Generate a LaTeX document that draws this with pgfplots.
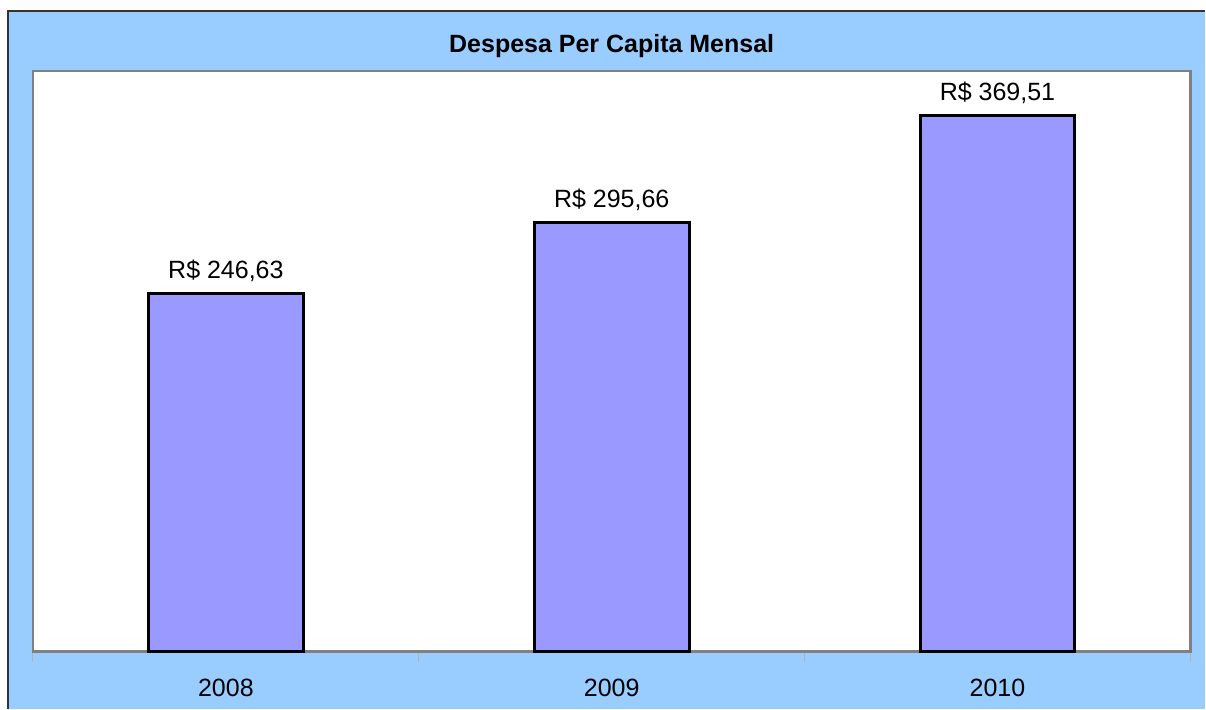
\documentclass[border=0pt]{standalone}
\usepackage{fontspec}
\setmainfont{Liberation Sans}
\usepackage{pgfplots}
\pgfplotsset{compat=1.18}
\definecolor{bgblue}{HTML}{99CCFF}
\definecolor{barblue}{HTML}{9999FF}
\definecolor{framegray}{HTML}{808080}

\begin{document}
\fontsize{12.5}{15}\selectfont
\begin{tikzpicture}[x=1pt,y=1pt]
% page and chart background (1px = 0.5pt, origin at lower left of plot area)
\fill[white] (-16.5,-28.5) rectangle (586.5,326);
\fill[bgblue] (-12.5,-28.5) rectangle (586.5,320.5);
\draw[black!80, line width=0.6pt] (-12.5,-28.5) -- (-12.5,320.5) -- (586.5,320.5);
\node[font=\bfseries\fontsize{12.5}{15}\selectfont] at (289.5,303) {Despesa Per Capita Mensal};
\begin{axis}[
    at={(0,0)}, anchor=south west,
    scale only axis, width=579pt, height=290.5pt,
    axis background/.style={fill=white},
    axis line style={framegray, line width=1.2pt},
    xmin=-0.5, xmax=2.5, ymin=0, ymax=400,
    xtick={0,1,2}, xticklabels={2008,2009,2010},
    xtick pos=bottom,
    major tick length=0pt,
    minor xtick={-0.5,0.5,1.5,2.5},
    minor tick length=5pt, tick align=outside,
    minor tick style={black!30, line width=0.5pt},
    ytick=\empty,
    x tick label style={font=\fontsize{12.5}{15}\selectfont, yshift=-9.5pt},
    ybar, bar width=77.5pt,
    nodes near coords, point meta=explicit symbolic,
    every node near coord/.append style={font=\fontsize{12.5}{15}\selectfont, yshift=1pt},
    clip=false,
]
\addplot[fill=barblue, draw=black, line width=1.5pt] coordinates {
    (0,246.63) [R\$ 246,63]
    (1,295.66) [R\$ 295,66]
    (2,369.51) [R\$ 369,51]
};
\end{axis}
\end{tikzpicture}
\end{document}
